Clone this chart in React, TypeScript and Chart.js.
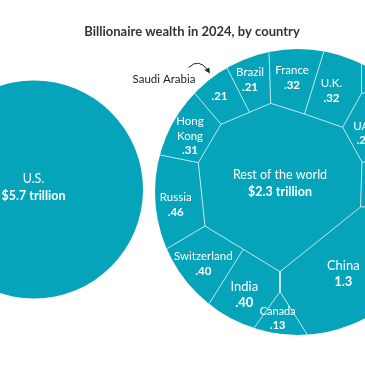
import React, { useEffect, useRef } from "react";
import { Chart, registerables } from "chart.js";
Chart.register(...registerables);

// ---------- data ----------
const title = "Billionaire wealth in 2024, by country";
const usName = "U.S.";
const usWealth = 5.7; // trillion $
const restName = "Rest of the world";
const restWealth = 2.3; // trillion $
const countries = ["Brazil", "France", "U.K.", "Italy", "UAE", "Saudi Arabia", "Hong Kong", "Russia", "Switzerland", "India", "Canada", "China"];
const wealth = [0.21, 0.32, 0.32, 0.3, 0.25, 0.21, 0.31, 0.46, 0.40, 0.40, 0.13, 1.3];

// ---------- layout (chart units, y downward) ----------
const US_CIRCLE = { x: 34, y: 189.5, r: 109 };
const WORLD_CIRCLE = { x: 298, y: 192, r: 143 };
const REST_POS = { x: 280, y: 175 };
const US_POS = { x: 33.5, y: 179 };
const LABELS: { [k: string]: { x: number; y: number; size: number; lines: string[] } } = {
  Brazil: { x: 250, y: 72.7, size: 11.5, lines: ["Brazil"] },
  France: { x: 292, y: 70.7, size: 11.5, lines: ["France"] },
  "U.K.": { x: 331.5, y: 83.3, size: 11.5, lines: ["U.K."] },
  Italy: { x: 375, y: 83.3, size: 11.5, lines: ["Italy"] },
  UAE: { x: 364.5, y: 126, size: 11.5, lines: ["UAE"] },
  "Saudi Arabia": { x: 219.5, y: 96.5, size: 11.5, lines: [] },
  "Hong Kong": { x: 190, y: 121.7, size: 11.5, lines: ["Hong", "Kong"] },
  Russia: { x: 175.7, y: 197.3, size: 11.5, lines: ["Russia"] },
  Switzerland: { x: 203.3, y: 256.7, size: 11.5, lines: ["Switzerland"] },
  India: { x: 244.3, y: 286.7, size: 13, lines: ["India"] },
  Canada: { x: 277.7, y: 311.7, size: 11, lines: ["Canada"] },
  China: { x: 343.3, y: 265.7, size: 13, lines: ["China"] },
};

// Voronoi cell boundaries (chart units)
const A = { x: 221, y: 124.3 };
const AB = { x: 249.5, y: 112.3 };
const B = { x: 270.7, y: 103.3 };
const FU = { x: 304.5, y: 114 };
const C = { x: 342.7, y: 127.3 };
const D = { x: 362, y: 162 };
const E = { x: 360.5, y: 207 };
const F = { x: 280, y: 271.7 };
const SI = { x: 243.3, y: 249.3 };
const G = { x: 205, y: 226 };
const H = { x: 198.3, y: 162.7 };
const I = { x: 361.5, y: 93.5 };
const K = { x: 280, y: 291.7 };
const EDGES = [
  [A, AB, B, FU, C, D, E, F, SI, G, H, A],
  [A, { x: 186, y: 83 }],
  [AB, { x: 222, y: 58 }],
  [B, { x: 268.6, y: 38 }],
  [FU, { x: 326.5, y: 43 }],
  [C, I, { x: 361.5, y: 38 }],
  [I, { x: 410, y: 82 }],
  [D, { x: 410, y: 160 }],
  [E, { x: 410, y: 205 }],
  [F, K],
  [K, { x: 244, y: 342 }],
  [K, { x: 312, y: 342 }],
  [SI, { x: 202, y: 315 }],
  [G, { x: 148, y: 260 }],
  [H, { x: 143, y: 151.5 }],
];

const TEAL = "#06a4bb";
const FONT = "Lato, 'Open Sans', sans-serif";

function fmt(v: number) {
  if (v >= 1) return v.toFixed(1);
  return "." + Math.round(v * 100).toString().padStart(2, "0");
}

const drawPlugin = {
  id: "wsjDraw",
  beforeDatasetsDraw(chart: any) {
    const { ctx } = chart;
    const x = chart.scales.x, y = chart.scales.y;
    const rad = (r: number) => Math.abs(x.getPixelForValue(r) - x.getPixelForValue(0));
    ctx.save();
    ctx.fillStyle = TEAL;
    for (const c of [US_CIRCLE, WORLD_CIRCLE]) {
      ctx.beginPath();
      ctx.arc(x.getPixelForValue(c.x), y.getPixelForValue(c.y), rad(c.r), 0, Math.PI * 2);
      ctx.fill();
    }
    ctx.restore();
    ctx.save();
    ctx.beginPath();
    ctx.arc(x.getPixelForValue(WORLD_CIRCLE.x), y.getPixelForValue(WORLD_CIRCLE.y), rad(WORLD_CIRCLE.r) - 0.5, 0, Math.PI * 2);
    ctx.clip();
  },
  afterDatasetsDraw(chart: any) {
    const { ctx } = chart;
    ctx.restore();
    const x = chart.scales.x, y = chart.scales.y;
    const px = (v: number) => x.getPixelForValue(v);
    const py = (v: number) => y.getPixelForValue(v);
    ctx.save();
    ctx.textAlign = "center";
    ctx.textBaseline = "middle";
    // title
    ctx.fillStyle = "#333333";
    ctx.font = `bold 13px ${FONT}`;
    ctx.fillText(title, px(192), py(32));
    // US
    ctx.fillStyle = "#ffffff";
    ctx.font = `normal 12.5px ${FONT}`;
    ctx.fillText(usName, px(US_POS.x), py(US_POS.y));
    ctx.font = `bold 12.5px ${FONT}`;
    ctx.fillText("$" + usWealth.toFixed(1) + " trillion", px(US_POS.x), py(US_POS.y + 16.5));
    // rest
    ctx.font = `normal 12.5px ${FONT}`;
    ctx.fillText(restName, px(REST_POS.x), py(REST_POS.y));
    ctx.font = `bold 12.5px ${FONT}`;
    ctx.fillText("$" + restWealth.toFixed(1) + " trillion", px(REST_POS.x), py(REST_POS.y + 16.5));
    // countries
    countries.forEach((name, i) => {
      const L = LABELS[name];
      const gap = L.size + 3;
      let yy = L.y;
      ctx.font = `normal ${L.size}px ${FONT}`;
      for (const line of L.lines) {
        ctx.fillText(line, px(L.x), py(yy));
        yy += gap;
      }
      ctx.font = `bold ${L.size}px ${FONT}`;
      ctx.fillText(fmt(wealth[i]), px(L.x), py(yy));
    });
    // Saudi Arabia annotation
    ctx.fillStyle = "#222222";
    ctx.font = `11.5px ${FONT}`;
    ctx.fillText("Saudi Arabia", px(164), py(79.5));
    ctx.strokeStyle = "#222222";
    ctx.lineWidth = 1;
    ctx.beginPath();
    ctx.moveTo(px(188.5), py(67.5));
    ctx.quadraticCurveTo(px(199), py(57.5), px(208), py(70.5));
    ctx.stroke();
    ctx.beginPath();
    ctx.moveTo(px(210), py(73.5));
    ctx.lineTo(px(204.6), py(70.2));
    ctx.lineTo(px(209.2), py(67.4));
    ctx.closePath();
    ctx.fillStyle = "#222222";
    ctx.fill();
    ctx.restore();
  },
};

export default function App() {
  const ref = useRef<HTMLCanvasElement | null>(null);
  useEffect(() => {
    if (!ref.current) return;
    const chart = new Chart(ref.current, {
      type: "scatter",
      data: {
        datasets: EDGES.map((pts) => ({
          data: pts.map((p) => ({ x: p.x, y: p.y })),
          showLine: true,
          borderColor: "rgba(255,255,255,0.75)",
          borderWidth: 1,
          pointRadius: 0,
          pointHoverRadius: 0,
          tension: 0,
          fill: false,
          clip: false as any,
        })),
      },
      options: {
        animation: false,
        responsive: true,
        maintainAspectRatio: false,
        layout: { padding: 0 },
        events: [],
        plugins: { legend: { display: false }, tooltip: { enabled: false }, title: { display: false } },
        scales: {
          x: { type: "linear", min: 0, max: 365, display: false },
          y: { type: "linear", min: 0, max: 365, reverse: true, display: false },
        },
      },
      plugins: [drawPlugin],
    });
    return () => chart.destroy();
  }, []);
  return (
    <div style={{ position: "absolute", left: 0, top: 0, width: 365, height: 365, background: "#fff" }}>
      <canvas ref={ref} />
    </div>
  );
}
